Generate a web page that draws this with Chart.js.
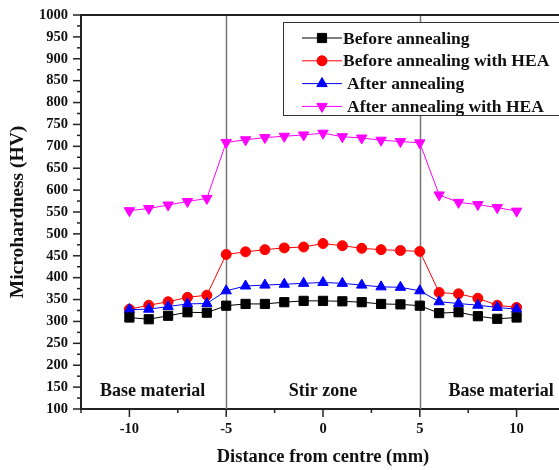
<!DOCTYPE html>
<html>
<head>
<meta charset="utf-8">
<script src="https://cdn.jsdelivr.net/npm/chart.js@4.4.0/dist/chart.umd.min.js"></script>
<style>
  html, body { margin: 0; padding: 0; background: #fff; overflow: hidden; }
  #wrap { width: 575px; height: 470px; }
</style>
</head>
<body>
<div id="wrap"><canvas id="hardness" width="575" height="470"></canvas></div>
<script>
// distance from weld centre (mm)
const distances = [-10, -9, -8, -7, -6, -5, -4, -3, -2, -1, 0, 1, 2, 3, 4, 5, 6, 7, 8, 9, 10];

// microhardness (HV) for each condition
const beforeAnnealing    = [309, 305, 313, 321, 320, 336, 340, 340, 344, 347, 347, 346, 344, 340, 339, 336, 319, 321, 312, 306, 309];
const beforeAnnealingHEA = [328, 337, 345, 355, 360, 453, 459, 464, 468, 470, 478, 473, 467, 464, 462, 460, 366, 363, 353, 337, 332];
const afterAnnealing     = [327, 328, 334, 340, 341, 370, 381, 383, 385, 387, 389, 387, 383, 379, 378, 370, 345, 341, 337, 332, 328];
const afterAnnealingHEA  = [553, 558, 566, 574, 581, 709, 715, 720, 723, 726, 730, 722, 719, 714, 711, 708, 589, 572, 567, 560, 552];

const seriesNames = ['Before annealing', 'Before annealing with HEA', 'After annealing', 'After annealing with HEA'];
const xTickValues = [-10, -5, 0, 5, 10];
const zoneEdges = [-5, 5];
const zoneLabels = [
  { text: 'Base material', x: -8.8 },
  { text: 'Stir zone', x: 0 },
  { text: 'Base material', x: 9.2 }
];
const zoneLabelY = 141;

const FONT = '"Liberation Serif", "Times New Roman", serif';
const AXIS = '#222';

function pts(values) {
  return distances.map((d, i) => ({ x: d, y: values[i] }));
}

function drawMarker(ctx, style, radius, rotation, x, y, color) {
  ctx.save();
  ctx.fillStyle = color;
  ctx.strokeStyle = color;
  ctx.lineWidth = 1;
  if (Chart.helpers && Chart.helpers.drawPoint) {
    Chart.helpers.drawPoint(ctx, { pointStyle: style, radius: radius, rotation: rotation, borderWidth: 1 }, x, y);
  }
  ctx.restore();
}

// vertical zone boundaries, minor ticks, frame, zone names and boxed legend
const decorations = {
  id: 'decorations',
  beforeDatasetsDraw(chart) {
    const { ctx, chartArea: a, scales: { x } } = chart;
    ctx.save();
    ctx.strokeStyle = '#777';
    ctx.lineWidth = 1.5;
    zoneEdges.forEach(v => {
      const px = Math.round(x.getPixelForValue(v)) + 0.5;
      ctx.beginPath();
      ctx.moveTo(px, a.top);
      ctx.lineTo(px, a.bottom);
      ctx.stroke();
    });
    ctx.restore();
  },
  afterDraw(chart) {
    const { ctx, chartArea: a, scales: { x, y } } = chart;
    ctx.save();

    // minor + major ticks
    ctx.strokeStyle = AXIS;
    ctx.lineWidth = 1.5;
    for (let v = -12.5; v <= 12.5; v += 2.5) {
      const px = x.getPixelForValue(v);
      const len = (v % 5 === 0) ? 8 : 4;
      ctx.beginPath();
      ctx.moveTo(px, a.bottom);
      ctx.lineTo(px, a.bottom + len);
      ctx.stroke();
    }
    for (let v = 100; v <= 1000; v += 25) {
      const py = y.getPixelForValue(v);
      const len = (v % 50 === 0) ? 8 : 4;
      ctx.beginPath();
      ctx.moveTo(a.left, py);
      ctx.lineTo(a.left - len, py);
      ctx.stroke();
    }

    // top and right frame
    ctx.lineWidth = 2;
    ctx.beginPath();
    ctx.moveTo(a.left, a.top);
    ctx.lineTo(a.right, a.top);
    ctx.lineTo(a.right, a.bottom);
    ctx.stroke();

    // zone names
    ctx.fillStyle = '#111';
    ctx.font = 'bold 18px ' + FONT;
    ctx.textAlign = 'center';
    ctx.textBaseline = 'middle';
    zoneLabels.forEach(z => {
      ctx.fillText(z.text, x.getPixelForValue(z.x), y.getPixelForValue(zoneLabelY));
    });

    // legend box
    const bx = a.left + 202, by = a.top + 7, bw = 300, bh = 93;
    ctx.fillStyle = '#fff';
    ctx.fillRect(bx, by, bw, bh);
    ctx.strokeStyle = '#333';
    ctx.lineWidth = 1;
    ctx.strokeRect(bx + 0.5, by + 0.5, bw, bh);

    ctx.font = 'bold 17.5px ' + FONT;
    ctx.textAlign = 'left';
    chart.data.datasets.forEach((ds, i) => {
      const ry = by + 16 + i * 22.8;
      ctx.strokeStyle = ds.borderColor;
      ctx.lineWidth = 1;
      ctx.beginPath();
      ctx.moveTo(bx + 19, ry);
      ctx.lineTo(bx + 59, ry);
      ctx.stroke();
      drawMarker(ctx, ds.pointStyle, ds.pointRadius, ds.pointRotation || 0, bx + 39, ry, ds.pointBackgroundColor);
      ctx.fillStyle = '#111';
      ctx.fillText(ds.label, bx + (i < 2 ? 60 : 64), ry + 1);
    });

    ctx.restore();
  }
};

new Chart(document.getElementById('hardness'), {
  type: 'line',
  data: {
    datasets: [
      {
        label: seriesNames[0], data: pts(beforeAnnealing),
        borderColor: '#000', pointBackgroundColor: '#000', pointBorderColor: '#000',
        pointStyle: 'rect', pointRadius: 6.5, order: 1
      },
      {
        label: seriesNames[1], data: pts(beforeAnnealingHEA),
        borderColor: '#ff0000', pointBackgroundColor: '#ff0000', pointBorderColor: '#ff0000',
        pointStyle: 'circle', pointRadius: 5, order: 3
      },
      {
        label: seriesNames[2], data: pts(afterAnnealing),
        borderColor: '#0000ff', pointBackgroundColor: '#0000ff', pointBorderColor: '#0000ff',
        pointStyle: 'triangle', pointRadius: 6, order: 2
      },
      {
        label: seriesNames[3], data: pts(afterAnnealingHEA),
        borderColor: '#ff00ff', pointBackgroundColor: '#ff00ff', pointBorderColor: '#ff00ff',
        pointStyle: 'triangle', pointRotation: 180, pointRadius: 6, order: 4
      }
    ].map(ds => Object.assign({ borderWidth: 1, pointBorderWidth: 1, tension: 0, fill: false }, ds))
  },
  options: {
    responsive: false,
    animation: false,
    layout: { padding: { top: 15, right: 10, left: 0, bottom: 0 } },
    plugins: {
      legend: { display: false },
      tooltip: { enabled: false }
    },
    scales: {
      x: {
        type: 'linear',
        min: -12.5,
        max: 12.5,
        afterBuildTicks: s => { s.ticks = xTickValues.map(v => ({ value: v })); },
        afterFit: s => { s.height = 61; },
        grid: { display: false, drawTicks: true, tickLength: 8 },
        border: { display: true, color: AXIS, width: 2 },
        ticks: {
          color: '#111', padding: 4,
          font: { family: FONT, size: 14.5, weight: 'bold' },
          callback: v => String(v)
        },
        title: {
          display: true, text: 'Distance from centre (mm)', color: '#111',
          padding: { top: 0, bottom: 2 },
          font: { family: FONT, size: 18.5, weight: 'bold' }
        }
      },
      y: {
        min: 100,
        max: 1000,
        afterFit: s => { s.width = 81; },
        grid: { display: false, drawTicks: true, tickLength: 8 },
        border: { display: true, color: AXIS, width: 2 },
        ticks: {
          stepSize: 50, color: '#111', padding: 5,
          font: { family: FONT, size: 14.5, weight: 'bold' },
          callback: v => String(v)
        },
        title: {
          display: true, text: 'Microhardness (HV)', color: '#111',
          padding: { top: 6, bottom: 0 },
          font: { family: FONT, size: 19.5, weight: 'bold' }
        }
      }
    }
  },
  plugins: [decorations]
});
</script>
</body>
</html>
